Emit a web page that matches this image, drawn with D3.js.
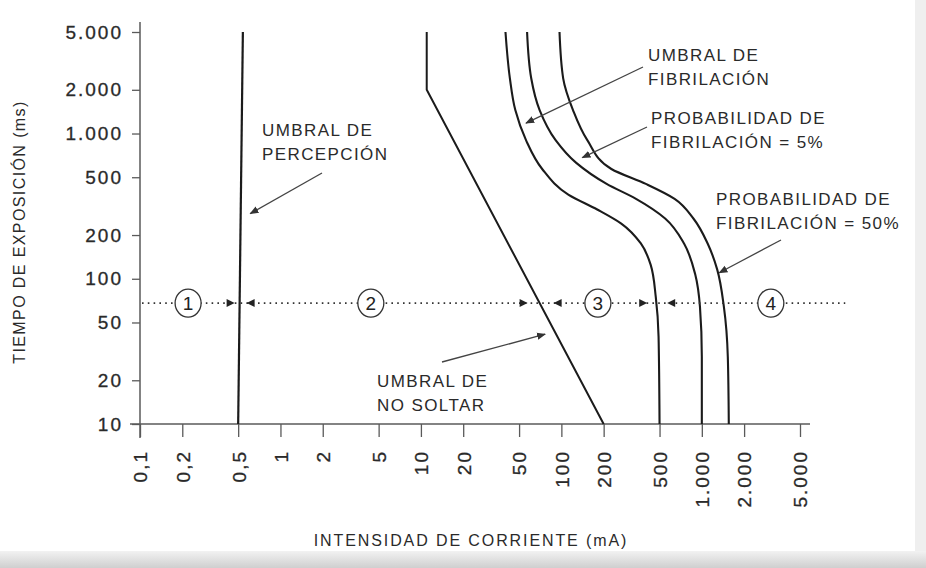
<!DOCTYPE html>
<html><head><meta charset="utf-8">
<script src="https://cdn.jsdelivr.net/npm/d3@7"></script>
<style>
body{margin:0;background:#fff}
svg{display:block}
text{font-family:"Liberation Sans",Arial,Helvetica,sans-serif}
</style>
</head><body>
<svg id="chart" width="926" height="568"></svg>
<script>
// ---------------- DATA ----------------
const xTicks = [0.1, 0.2, 0.5, 1, 2, 5, 10, 20, 50, 100, 200, 500, 1000, 2000, 5000];
const xTickLabels = ["0,1","0,2","0,5","1","2","5","10","20","50","100","200","500","1.000","2.000","5.000"];
const yTicks = [10, 20, 50, 100, 200, 500, 1000, 2000, 5000];
const yTickLabels = ["10","20","50","100","200","500","1.000","2.000","5.000"];

// curves: time (ms) and current (mA)
const perceptionT = [5000, 10];
const perceptionI = [0.54, 0.5];
const letGoT = [5000, 2000, 10];
const letGoI = [11, 11, 200];
const fib0T = [5000, 2400, 1450, 900, 570, 380, 300, 240, 175, 125, 75, 40, 10];
const fib0I = [40, 43, 47, 56, 73, 112, 180, 267, 368, 432, 470, 492, 500];
const fib5T = [5000, 2400, 1450, 900, 630, 450, 355, 260, 175, 107, 64, 29, 10];
const fib5I = [57, 61, 70, 91, 127, 210, 340, 548, 747, 898, 970, 1000, 1000];
const fib50T = [5000, 2400, 1450, 900, 570, 450, 355, 260, 175, 116, 64, 29, 10];
const fib50I = [97, 103, 121, 153, 227, 399, 640, 871, 1100, 1286, 1436, 1531, 1556];

// zones
const zoneT = 68;
const zoneNames = ["1", "2", "3", "4"];
const zoneLabelI = [0.22, 4.4, 182, 3100];
const zoneLineI = [0.1, 10500];

// annotations
const noteLines = [
  ["UMBRAL DE", "PERCEPCIÓN"],
  ["UMBRAL DE", "NO SOLTAR"],
  ["UMBRAL DE", "FIBRILACIÓN"],
  ["PROBABILIDAD DE", "FIBRILACIÓN = 5%"],
  ["PROBABILIDAD DE", "FIBRILACIÓN = 50%"]
];
const noteTipT = [281, 41.5, 1180, 682, 110];
const noteTipI = [0.61, 76.6, 56, 141, 1330];

const xTitle = "INTENSIDAD DE CORRIENTE (mA)";
const yTitle = "TIEMPO DE EXPOSICIÓN (ms)";

// ---------------- LAYOUT ----------------
const svg = d3.select("#chart");
const ink = "#1b1b1b", axisCol = "#5a5a5a", txt = "#2a2a2a";
const x = d3.scaleLog().domain([0.1, 5000]).range([140, 800]);
const y = d3.scaleLog().domain([10, 5000]).range([424, 32]);

// scan-like background edges
const defs = svg.append("defs");
const g1 = defs.append("linearGradient").attr("id","bot").attr("x1",0).attr("y1",0).attr("x2",0).attr("y2",1);
g1.append("stop").attr("offset","0").attr("stop-color","#f2f2f2");
g1.append("stop").attr("offset","1").attr("stop-color","#cfcfcf");
svg.append("rect").attr("x",0).attr("y",551).attr("width",926).attr("height",17).attr("fill","url(#bot)");
svg.append("rect").attr("x",915).attr("y",0).attr("width",11).attr("height",551).attr("fill","#efefef");

defs.append("marker").attr("id","ah").attr("viewBox","0 0 10 10")
  .attr("refX",9).attr("refY",5).attr("markerWidth",9).attr("markerHeight",9)
  .attr("markerUnits","userSpaceOnUse").attr("orient","auto")
  .append("path").attr("d","M0,1 L10,5 L0,9 Z").attr("fill","#333");

// axes
const xAxis = d3.axisBottom(x).tickValues(xTicks)
  .tickFormat((d, i) => xTickLabels[i]).tickSize(13).tickPadding(0);
const gx = svg.append("g").attr("transform", `translate(0,${y(10)})`).call(xAxis);
gx.select(".domain").remove();
gx.selectAll(".tick line").attr("stroke", axisCol).attr("stroke-width", 1.3);
gx.selectAll(".tick text")
  .attr("transform", "rotate(-90)")
  .attr("x", -26).attr("y", 0).attr("dy", "0.36em")
  .attr("text-anchor", "end")
  .attr("fill", txt).attr("stroke", txt).attr("stroke-width", 0.3)
  .style("font-size", "19px").style("letter-spacing", "2px");

const yAxis = d3.axisLeft(y).tickValues(yTicks)
  .tickFormat((d, i) => yTickLabels[i]).tickSize(8).tickPadding(9);
const gy = svg.append("g").attr("transform", `translate(${x(0.1)},0)`).call(yAxis);
gy.select(".domain").remove();
gy.selectAll(".tick line").attr("stroke", axisCol).attr("stroke-width", 1.3);
gy.selectAll(".tick text").attr("fill", txt).attr("stroke", txt).attr("stroke-width", 0.3)
  .style("font-size", "19px").style("letter-spacing", "2px");

// axis lines (extended past the ends like the original)
svg.append("line").attr("x1", x(0.1) - 10).attr("x2", x(5000) + 10)
  .attr("y1", y(10)).attr("y2", y(10)).attr("stroke", axisCol).attr("stroke-width", 1.5);
svg.append("line").attr("x1", x(0.1)).attr("x2", x(0.1))
  .attr("y1", y(5000) - 10).attr("y2", y(10) + 14).attr("stroke", axisCol).attr("stroke-width", 1.5);

// titles
svg.append("text").attr("x", (x(0.1) + x(5000)) / 2 + 1).attr("y", 546)
  .attr("text-anchor", "middle").attr("fill", txt)
  .style("font-size", "16px").style("letter-spacing", "1.9px").text(xTitle);
svg.append("text").attr("transform", `translate(25,${(y(10) + y(5000)) / 2 + 4}) rotate(-90)`)
  .attr("text-anchor", "middle").attr("fill", txt)
  .style("font-size", "16px").style("letter-spacing", "1.4px").text(yTitle);

// curves
const zip = (T, I) => T.map((t, i) => ({ t, I: I[i] }));
const line = d3.line().x(d => x(d.I)).y(d => y(d.t));
const smooth = d3.line().x(d => x(d.I)).y(d => y(d.t)).curve(d3.curveMonotoneY);

svg.append("path").attr("d", line(zip(perceptionT, perceptionI)))
  .attr("fill", "none").attr("stroke", ink).attr("stroke-width", 2.2);
svg.append("path").attr("d", line(zip(letGoT, letGoI)))
  .attr("fill", "none").attr("stroke", ink).attr("stroke-width", 2);
[[fib0T, fib0I], [fib5T, fib5I], [fib50T, fib50I]].forEach(([T, I]) => {
  svg.append("path").attr("d", smooth(zip(T, I)))
    .attr("fill", "none").attr("stroke", ink).attr("stroke-width", 2.1);
});

// zone band
function currentAt(T, I, t) {
  const pts = zip(T, I).sort((a, b) => a.t - b.t);
  for (let k = 0; k < pts.length - 1; k++) {
    const a = pts[k], b = pts[k + 1];
    if (t >= a.t && t <= b.t) {
      const f = (Math.log(t) - Math.log(a.t)) / (Math.log(b.t) - Math.log(a.t));
      return Math.exp(Math.log(a.I) + f * (Math.log(b.I) - Math.log(a.I)));
    }
  }
  return pts[0].I;
}
const zy = y(zoneT);
svg.append("line").attr("x1", x(zoneLineI[0]) + 2).attr("x2", x(zoneLineI[1]))
  .attr("y1", zy).attr("y2", zy).attr("stroke", "#333").attr("stroke-width", 1.6)
  .attr("stroke-dasharray", "1.6,4.2");
const bounds = [currentAt(perceptionT, perceptionI, zoneT),
                currentAt(letGoT, letGoI, zoneT),
                currentAt(fib0T, fib0I, zoneT)];
const gaps = [5, 12, 9];
bounds.forEach((b, i) => {
  const bx = x(b), g = gaps[i];
  svg.append("path").attr("d", `M${bx - g},${zy} l-8,-4 l0,8 Z`).attr("fill", "#222");
  svg.append("path").attr("d", `M${bx + g + 2},${zy} l8,-4 l0,8 Z`).attr("fill", "#222");
});
zoneNames.forEach((n, i) => {
  const cx = x(zoneLabelI[i]);
  svg.append("ellipse").attr("cx", cx).attr("cy", zy).attr("rx", 13).attr("ry", 14)
    .attr("fill", "#fff").attr("stroke", "#333").attr("stroke-width", 1.3);
  svg.append("text").attr("x", cx).attr("y", zy).attr("dy", "0.36em")
    .attr("text-anchor", "middle").attr("fill", "#222").style("font-size", "19px").text(n);
});

// annotations (text placement is layout)
const notePos = [
  { tx: 262, ty: 136, tail: [322, 173] },
  { tx: 377, ty: 387, tail: [442, 362] },
  { tx: 648, ty: 61,  tail: [643, 67] },
  { tx: 651, ty: 124, tail: [647, 127] },
  { tx: 716, ty: 205, tail: [781, 240] }
];
noteLines.forEach((ls, i) => {
  const p = notePos[i];
  const t = svg.append("text").attr("x", p.tx).attr("y", p.ty).attr("fill", txt)
    .style("font-size", "17px").style("letter-spacing", "1.4px");
  ls.forEach((s, j) => t.append("tspan").attr("x", p.tx).attr("dy", j === 0 ? 0 : 24).text(s));
  svg.append("line").attr("x1", p.tail[0]).attr("y1", p.tail[1])
    .attr("x2", x(noteTipI[i])).attr("y2", y(noteTipT[i]))
    .attr("stroke", "#444").attr("stroke-width", 1.3).attr("marker-end", "url(#ah)");
});
</script>
</body></html>
